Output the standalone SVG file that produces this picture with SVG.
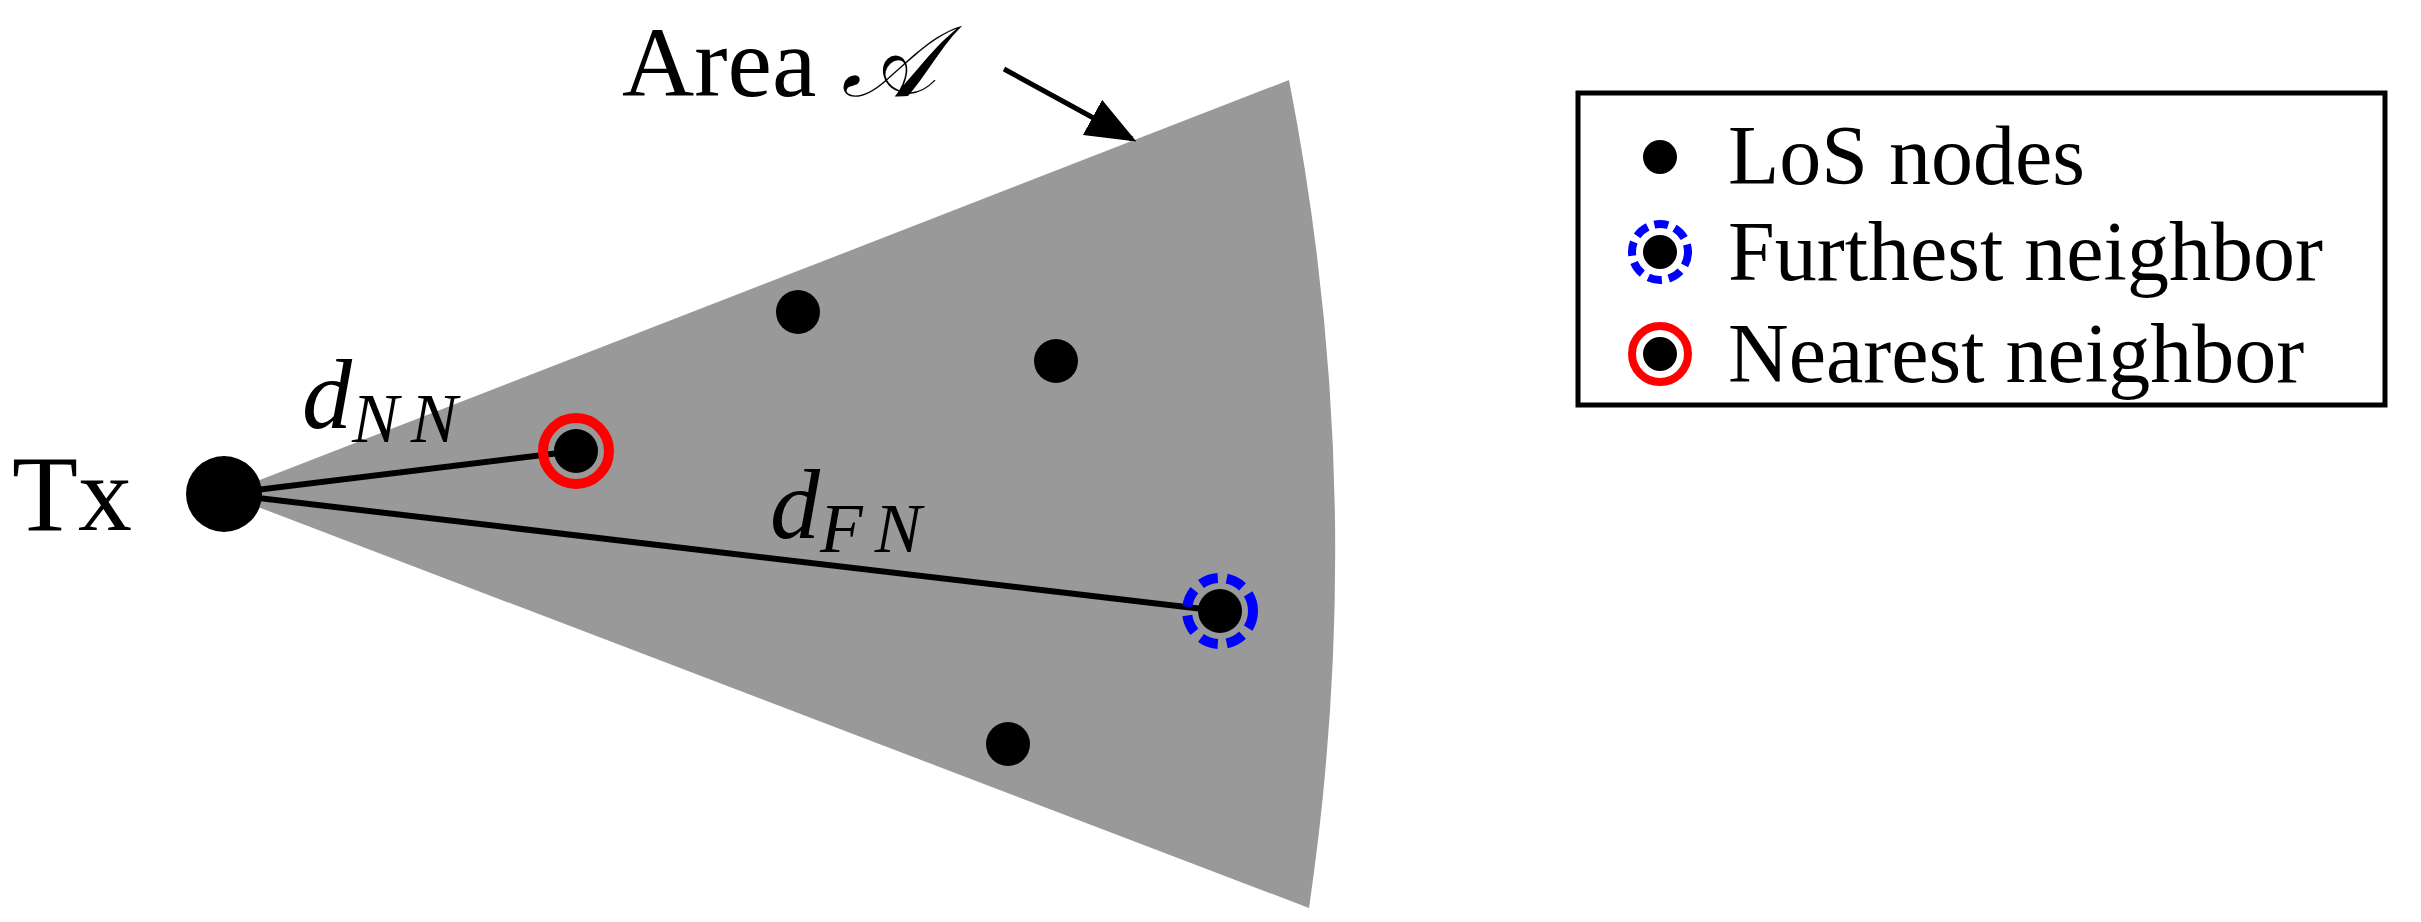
<svg xmlns="http://www.w3.org/2000/svg" width="2421" height="922" viewBox="0 0 2421 922">
<style>
.t{font-family:"Liberation Serif",serif;fill:#000}
.dot{fill:#000}
</style>
<defs><marker id="ah" markerWidth="10" markerHeight="8" refX="9" refY="4" orient="auto" markerUnits="strokeWidth"><path d="M0,0 L10,4 L0,8 z" fill="#000"/></marker></defs>
<rect width="2421" height="922" fill="#fff"/>
<g id="area"><path d="M224,494 L1289,80 Q1370,494 1309,908 Z" fill="#999"/></g>
<g id="connectors" stroke="#000" stroke-width="6">
<line x1="224" y1="494" x2="576" y2="451"/>
<line x1="224" y1="494" x2="1220" y2="611"/>
<line x1="1004" y1="69" x2="1132" y2="139" stroke-width="5" marker-end="url(#ah)"/>
</g>
<g id="tx"><circle cx="224" cy="494" r="38" class="dot"/><text class="t" x="12" y="530" font-size="108">Tx</text></g>
<g id="n1"><circle cx="798" cy="312" r="22" class="dot"/></g>
<g id="n2"><circle cx="1056" cy="361" r="22" class="dot"/></g>
<g id="n3"><circle cx="1008" cy="744" r="22" class="dot"/></g>
<g id="nn"><circle cx="576" cy="451" r="33" fill="none" stroke="#f00" stroke-width="10"/><circle cx="576" cy="451" r="22" class="dot"/></g>
<g id="fn"><circle cx="1220" cy="611" r="33" fill="none" stroke="#00f" stroke-width="10" stroke-dasharray="18,9"/><circle cx="1220" cy="611" r="22" class="dot"/></g>
<g id="labels">
<text class="t" x="302" y="428" font-size="100" font-style="italic">d<tspan font-size="70" dy="14" letter-spacing="12">NN</tspan></text>
<text class="t" x="770" y="538" font-size="100" font-style="italic">d<tspan font-size="70" dy="14" letter-spacing="12">FN</tspan></text>
<text class="t" x="622" y="96" font-size="100">Area <tspan font-style="italic">𝒜</tspan></text>
</g>
<g id="legend">
<rect x="1578" y="93" width="807" height="312" fill="#fff" stroke="#000" stroke-width="5"/>
<circle cx="1660" cy="157" r="17" class="dot"/>
<circle cx="1660" cy="252" r="28" fill="none" stroke="#00f" stroke-width="8" stroke-dasharray="14,7"/><circle cx="1660" cy="252" r="17" class="dot"/>
<circle cx="1660" cy="354" r="28" fill="none" stroke="#f00" stroke-width="8"/><circle cx="1660" cy="354" r="17" class="dot"/>
<text class="t" x="1728" y="184" font-size="84">LoS nodes</text>
<text class="t" x="1728" y="280" font-size="84">Furthest neighbor</text>
<text class="t" x="1728" y="382" font-size="84">Nearest neighbor</text>
</g>
</svg>
